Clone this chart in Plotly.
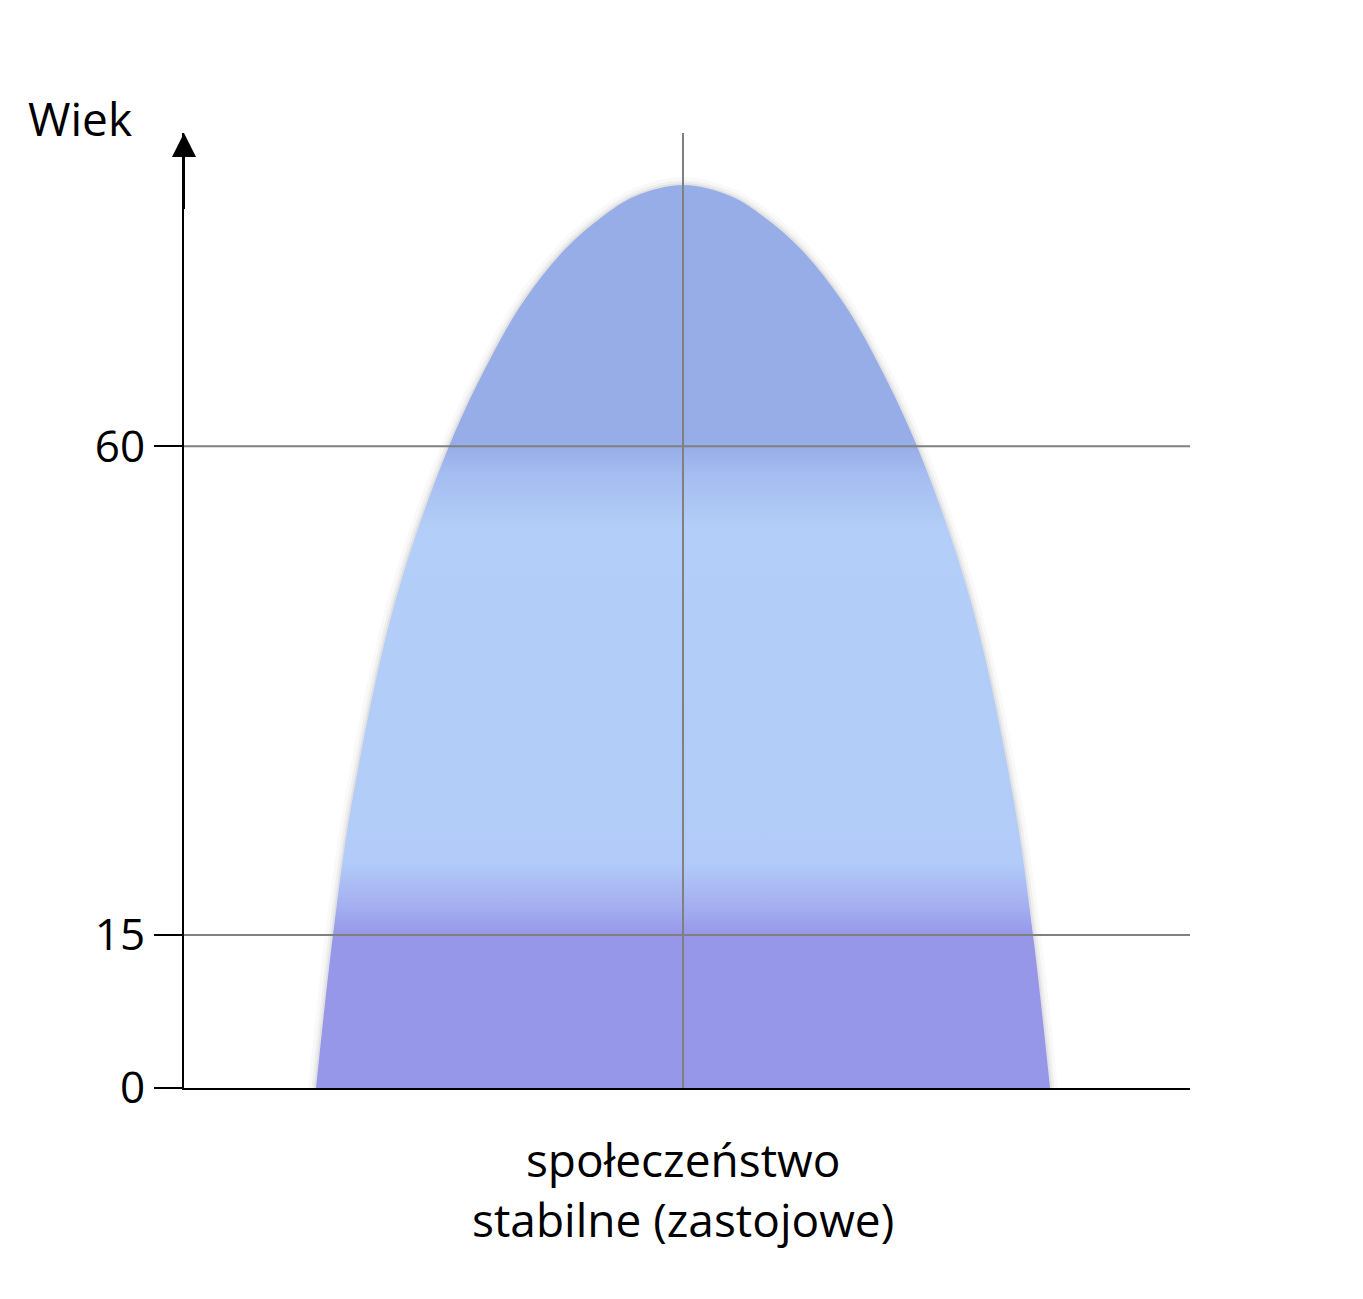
import plotly.graph_objects as go

# schematic age positions (vertical units) and half widths of the shape
ages = [0, 15, 28, 47.6, 62.9, 72, 77.3, 82.2, 85.3, 87.4, 88.5]
half_width = [367, 350, 331, 288, 234, 190, 158, 118, 82, 48, 0]
tick_pos = [0, 15, 62.9]
tick_labels = ["0", "15", "60"]
category = "społeczeństwo<br>stabilne (zastojowe)"
y_top = 93.6

xs = [-w for w in half_width] + [w for w in half_width[::-1]][1:]
ys = ages + ages[::-1][1:]

fig = go.Figure()
for wdt, a in [(16, 0.025), (9, 0.04), (4, 0.06)]:
    fig.add_trace(go.Scatter(x=xs, y=ys, mode="lines", line=dict(color=f"rgba(0,0,0,{a})", width=wdt, shape="spline", smoothing=1),
                             hoverinfo="skip", showlegend=False))
fig.add_trace(go.Scatter(
    x=xs, y=ys, mode="lines", line=dict(width=0, shape="spline", smoothing=1), fill="toself", showlegend=False,
    fillgradient=dict(type="vertical", colorscale=[
        [0, "#9797E9"], [0.17, "#9797E9"], [0.20, "#A4AEF0"], [0.25, "#B2CBF8"],
        [0.62, "#B3CEF8"], [0.68, "#A5BCF0"], [0.71, "#97ADE8"], [1, "#97ADE8"]])))

shapes = []
for t in tick_pos[1:]:
    shapes.append(dict(type="line", x0=-499, x1=507, y0=t, y1=t, line=dict(color="#808080", width=2)))
shapes.append(dict(type="line", x0=0, x1=0, y0=0, y1=y_top, line=dict(color="#808080", width=2)))
fig.update_layout(shapes=shapes)

fig.update_layout(
    width=1363, height=1299, plot_bgcolor="white", paper_bgcolor="white",
    margin=dict(l=176, r=181, t=125, b=219),
    font=dict(family="Open Sans", size=44, color="black"),
    xaxis=dict(range=[-499, 507], showgrid=False, zeroline=False, showticklabels=False,
               showline=True, linecolor="black", linewidth=2),
    yaxis=dict(range=[0, y_top], showgrid=False, zeroline=False, tickvals=tick_pos, ticktext=tick_labels,
               ticks="outside", ticklen=28, tickcolor="black", tickwidth=2,
               showline=True, linecolor="black", linewidth=2,
               tickfont=dict(size=44, family="Open Sans")),
    annotations=[
        dict(text="", x=-499, y=y_top, xref="x", yref="y", ax=-499, ay=86, axref="x", ayref="y",
             showarrow=True, arrowhead=2, arrowsize=2.4, arrowwidth=2, arrowcolor="black"),
        dict(text="Wiek", x=-0.103, y=1.016, xref="paper", yref="paper", showarrow=False,
             font=dict(size=46), xanchor="center", yanchor="middle"),
        dict(text=category, x=0, y=-0.04, xref="x", yref="paper", showarrow=False,
             font=dict(size=46), yanchor="top", xanchor="center"),
    ])
fig.write_html("out.html")
